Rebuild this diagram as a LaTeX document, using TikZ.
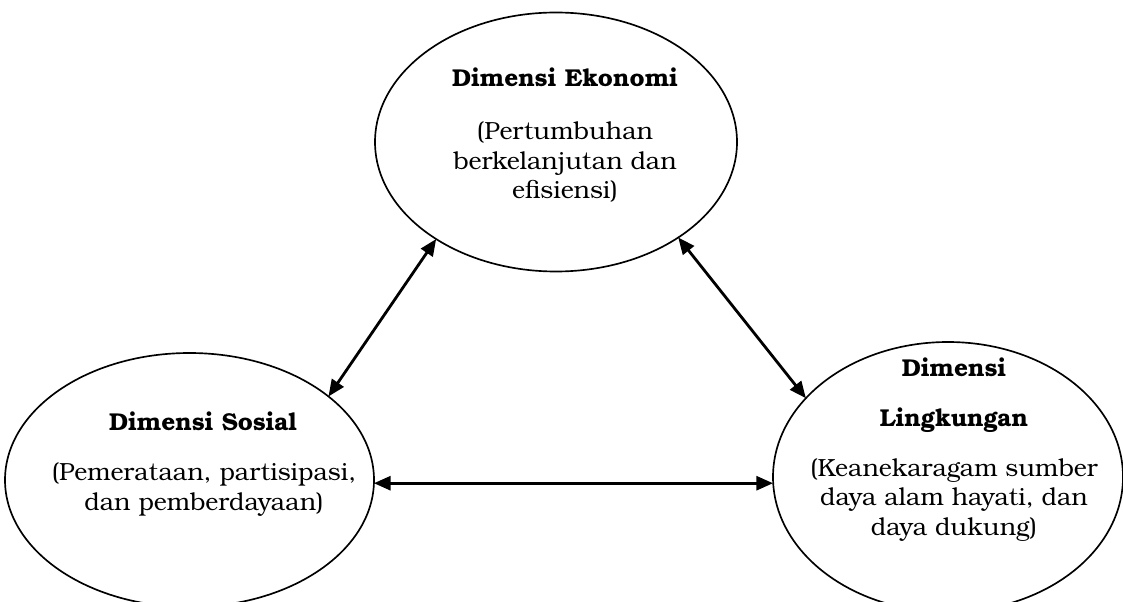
\documentclass[tikz,border=0pt]{standalone}
\usepackage{fontspec}
\setmainfont{TeX Gyre Bonum}
\usetikzlibrary{shapes.geometric,arrows.meta,calc}
\begin{document}
\begin{tikzpicture}[x=0.75pt,y=-0.75pt,
  dim/.style={ellipse,draw,line width=1.25pt,inner sep=0pt,outer sep=0pt},
  ttl/.style={font=\fontsize{18.3}{22}\selectfont\bfseries,inner sep=0pt},
  body/.style={font=\fontsize{18.6}{22.4}\selectfont,align=center,inner sep=0pt},
  link/.style={line width=2.1pt,{Triangle[length=12.5pt,width=10.5pt]}-{Triangle[length=12.5pt,width=10.5pt]}}]
\useasboundingbox (0,0) rectangle (1123,602);
\clip (0,0) rectangle (1123,602);
\node[dim,minimum width=271.5pt,minimum height=194.25pt] (eko) at (556,142) {};
\node[dim,minimum width=276.75pt,minimum height=190.5pt] (sos) at (189.5,480) {};
\node[dim,minimum width=262.5pt,minimum height=202.5pt] (ling) at (948,477) {};
\node[ttl] (ekoT) at (565,77) {Dimensi Ekonomi};
\node[body] (ekoB) at (565,162) {(Pertumbuhan\\berkelanjutan dan\\efisiensi)};
\node[ttl] (sosT) at (203,421) {Dimensi Sosial};
\node[body] (sosB) at (204,490) {(Pemerataan, partisipasi,\\dan pemberdayaan)};
\node[ttl] (lingT1) at (954,367) {Dimensi};
\node[ttl] (lingT2) at (954,420) {Lingkungan};
\node[body] (lingB) at (954,500) {(Keanekaragam sumber\\daya alam hayati, dan\\daya dukung)};
\draw[link] (eko.219.5) -- (sos.31.1);
\draw[link] (eko.322.3) -- (ling.151.7);
\draw[link] (sos.-1.5) -- (sos.-1.5 -| ling.west);
\end{tikzpicture}
\end{document}
